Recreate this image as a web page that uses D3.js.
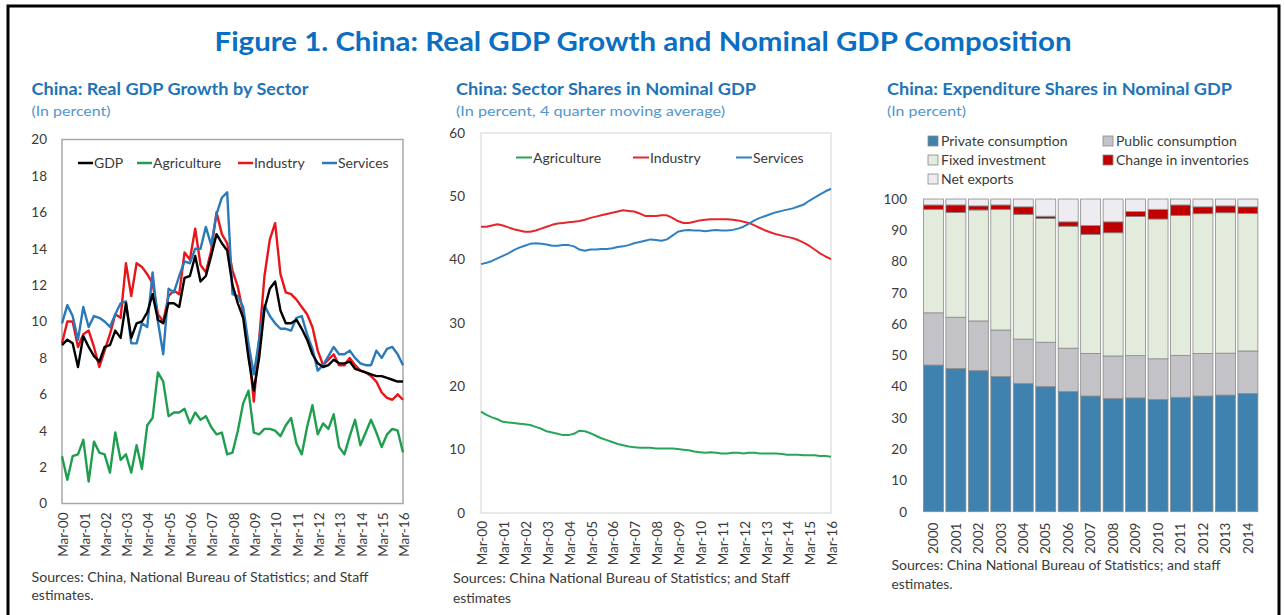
<!DOCTYPE html>
<html><head><meta charset="utf-8">
<script src="https://cdn.jsdelivr.net/npm/d3@7"></script>
<style>body{margin:0;background:#fff;} svg{display:block;font-family:Lato,"Open Sans",sans-serif;}</style>
</head><body><svg id="c" width="1285" height="615"></svg>
<script>
// ---------- DATA ----------
const quarters = ["Mar-00","Jun-00","Sep-00","Dec-00","Mar-01","Jun-01","Sep-01","Dec-01","Mar-02","Jun-02","Sep-02","Dec-02",
"Mar-03","Jun-03","Sep-03","Dec-03","Mar-04","Jun-04","Sep-04","Dec-04","Mar-05","Jun-05","Sep-05","Dec-05",
"Mar-06","Jun-06","Sep-06","Dec-06","Mar-07","Jun-07","Sep-07","Dec-07","Mar-08","Jun-08","Sep-08","Dec-08",
"Mar-09","Jun-09","Sep-09","Dec-09","Mar-10","Jun-10","Sep-10","Dec-10","Mar-11","Jun-11","Sep-11","Dec-11",
"Mar-12","Jun-12","Sep-12","Dec-12","Mar-13","Jun-13","Sep-13","Dec-13","Mar-14","Jun-14","Sep-14","Dec-14",
"Mar-15","Jun-15","Sep-15","Dec-15","Mar-16"];
const quarterTicks = ["Mar-00","Mar-01","Mar-02","Mar-03","Mar-04","Mar-05","Mar-06","Mar-07","Mar-08","Mar-09","Mar-10","Mar-11","Mar-12","Mar-13","Mar-14","Mar-15","Mar-16"];

// Real GDP growth by sector (percent)
const gdpGrowth = [8.7,9.0,8.8,7.5,9.2,8.6,8.1,7.8,8.6,8.7,9.5,9.1,11.0,9.1,9.9,10.0,10.5,11.5,10.1,9.9,
 11.0,11.0,10.8,12.4,12.5,13.6,12.2,12.5,13.6,14.8,14.3,13.9,12.0,11.0,10.2,8.0,6.2,8.0,10.7,11.8,
 12.2,10.6,9.9,9.9,10.1,9.6,9.0,8.2,7.7,7.5,7.6,7.9,7.7,7.7,7.8,7.4,7.3,7.2,7.1,7.0,7.0,6.9,6.8,6.7,6.7];
const agriGrowth = [2.6,1.3,2.6,2.7,3.5,1.2,3.4,2.8,2.7,1.7,3.9,2.4,2.7,1.7,3.2,1.9,4.3,4.7,7.2,6.7,
 4.8,5.0,5.0,5.2,4.4,5.0,4.6,4.8,4.2,3.8,3.9,2.7,2.8,4.0,5.5,6.2,3.9,3.8,4.1,4.1,
 4.0,3.7,4.3,4.7,3.3,2.7,4.2,5.4,3.8,4.4,4.1,4.9,3.1,2.7,3.7,4.6,3.2,3.9,4.6,3.9,3.1,3.8,4.1,4.0,2.8];
const industryGrowth = [8.8,10.0,10.0,8.6,9.3,9.5,8.6,7.5,8.4,9.3,10.4,10.2,13.2,11.4,13.2,13.0,12.6,12.1,10.4,10.0,
 11.4,11.7,11.5,13.8,13.4,15.1,13.1,12.7,13.9,16.0,14.8,14.3,12.8,11.9,10.5,8.5,5.6,9.0,12.5,14.5,
 15.4,12.6,11.6,11.5,11.2,10.8,10.4,9.7,8.4,7.6,7.9,8.2,7.6,7.6,8.0,7.6,7.3,7.2,7.0,6.7,6.1,5.8,5.7,6.0,5.7];
const servicesGrowth = [9.9,10.9,10.3,9.0,10.8,9.7,10.3,10.2,10.0,9.7,10.4,11.0,11.1,8.8,8.8,9.9,9.7,12.7,10.0,8.2,
 11.8,11.6,12.5,13.3,13.2,14.0,14.0,15.2,14.2,15.9,16.8,17.1,11.5,11.4,10.8,8.8,7.1,9.0,10.9,10.3,
 9.9,9.6,9.6,9.5,10.2,10.3,9.3,8.5,7.3,7.6,8.1,8.6,8.2,8.2,8.4,8.0,7.7,7.6,7.6,8.4,8.0,8.5,8.6,8.2,7.6];
const growthTicks = [0,2,4,6,8,10,12,14,16,18,20];

// Sector shares in nominal GDP (percent, 4q moving average)
const agriShare = [16.0,15.5,15.1,14.8,14.4,14.3,14.2,14.1,14.0,13.9,13.6,13.3,12.9,12.7,12.5,12.3,12.3,12.5,13.0,12.9,
 12.6,12.2,11.8,11.5,11.2,10.9,10.7,10.5,10.4,10.3,10.3,10.3,10.2,10.2,10.2,10.2,10.1,10.0,9.9,9.7,
 9.6,9.5,9.6,9.5,9.4,9.4,9.5,9.5,9.4,9.5,9.5,9.4,9.4,9.4,9.4,9.3,9.2,9.2,9.2,9.1,9.1,9.1,9.0,9.0,8.9];
const industryShare = [45.2,45.2,45.4,45.6,45.4,45.1,44.8,44.6,44.4,44.4,44.6,44.9,45.2,45.5,45.7,45.8,45.9,46.0,46.1,46.3,
 46.6,46.8,47.0,47.2,47.4,47.6,47.8,47.7,47.6,47.3,46.9,46.9,46.9,47.0,47.0,46.6,46.1,45.8,45.8,46.0,
 46.2,46.3,46.4,46.4,46.4,46.4,46.3,46.2,46.0,45.8,45.4,45.0,44.6,44.3,44.0,43.8,43.6,43.4,43.1,42.7,42.2,41.6,41.0,40.5,40.1];
const servicesShare = [39.3,39.5,39.8,40.2,40.6,41.0,41.5,41.9,42.2,42.5,42.6,42.5,42.4,42.2,42.2,42.3,42.3,42.1,41.6,41.4,
 41.6,41.6,41.7,41.7,41.8,42.0,42.1,42.3,42.6,42.8,43.0,43.2,43.1,43.0,43.2,43.8,44.4,44.6,44.7,44.6,
 44.6,44.5,44.6,44.7,44.6,44.6,44.7,44.9,45.2,45.7,46.2,46.6,46.9,47.2,47.5,47.7,47.9,48.1,48.4,48.7,49.3,49.8,50.3,50.8,51.2];
const shareTicks = [0,10,20,30,40,50,60];

// Expenditure shares in nominal GDP (percent)
const years = ["2000","2001","2002","2003","2004","2005","2006","2007","2008","2009","2010","2011","2012","2013","2014"];
const privateConsumption = [46.9,45.8,45.1,43.2,41.0,40.0,38.4,37.0,36.2,36.4,35.9,36.6,37.0,37.3,37.8];
const publicConsumption  = [16.7,16.4,15.9,14.9,14.2,14.2,13.9,13.6,13.6,13.5,13.0,13.4,13.6,13.4,13.6];
const fixedInvestment    = [33.1,33.5,35.5,38.6,39.9,39.6,39.0,38.1,39.4,44.5,44.7,44.7,44.7,44.9,44.0];
const inventoryChange    = [1.4,2.4,1.3,1.4,2.4,0.7,1.4,2.8,3.5,1.6,3.1,3.4,2.2,2.2,2.1];
const netExports         = [1.9,1.9,2.2,1.9,2.5,5.5,7.3,8.5,7.3,4.0,3.3,1.9,2.5,2.2,2.5];
const expTicks = [0,10,20,30,40,50,60,70,80,90,100];

// ---------- DRAW ----------
const svg = d3.select("#c");
const TXT = "#3a3a3a";
svg.append("rect").attr("x",8).attr("y",6).attr("width",1271).attr("height",700)
  .attr("fill","none").attr("stroke","#000").attr("stroke-width",3);

function addText(x,y,str,opts){
  const t = svg.append("text").attr("x",x).attr("y",y).text(str)
    .attr("font-size",opts.size||13).attr("fill",opts.fill||TXT);
  if(opts.bold) t.attr("font-weight",700);
  if(opts.anchor) t.attr("text-anchor",opts.anchor);
  if(opts.len) t.attr("textLength",opts.len).attr("lengthAdjust","spacingAndGlyphs");
  return t;
}
addText(643,51,"Figure 1. China: Real GDP Growth and Nominal GDP Composition",{size:27,bold:true,fill:"#0a6fc2",anchor:"middle",len:857});

const TITLE="#1f74b8", SUB="#4f97d0";
addText(31.5,95,"China: Real GDP Growth by Sector",{size:17,bold:true,fill:TITLE,len:277});
addText(31.5,115.5,"(In percent)",{size:14,fill:SUB,len:79});
addText(456,95,"China: Sector Shares in Nominal GDP",{size:17,bold:true,fill:TITLE,len:300});
addText(456,115.5,"(In percent, 4 quarter moving average)",{size:14,fill:SUB,len:269});
addText(887,95,"China: Expenditure Shares in Nominal GDP",{size:17,bold:true,fill:TITLE,len:345});
addText(887,115.5,"(In percent)",{size:14,fill:SUB,len:79});

addText(31.5,581.5,"Sources: China, National Bureau of Statistics; and Staff",{size:13.5,len:337});
addText(31.5,600,"estimates.",{size:13.5,len:62});
addText(453,583,"Sources: China National Bureau of Statistics; and Staff",{size:13.5,len:337});
addText(453,603,"estimates",{size:13.5,len:58});
addText(891.5,570,"Sources: China National Bureau of Statistics; and staff",{size:13.5,len:329});
addText(891.5,588.5,"estimates.",{size:13.5,len:61});

function styleAxis(g){
  g.select(".domain").remove();
  g.selectAll("text").attr("fill",TXT).attr("font-size",13.5).attr("font-family","Lato,'Open Sans',sans-serif");
}
function xTickAxis(g, offset){
  g.select(".domain").remove();
  g.selectAll("text").attr("fill",TXT).attr("font-size",13.5).attr("font-family","Lato,'Open Sans',sans-serif")
    .attr("transform","rotate(-90)").attr("text-anchor","end").attr("x",-offset).attr("y",0).attr("dy","0.35em");
}

// ===== Left chart =====
(function(){
  const x = d3.scaleLinear().domain([0,quarters.length-1]).range([62,403]);
  const y = d3.scaleLinear().domain([0,20]).range([503.5,139.5]);
  svg.append("rect").attr("x",62).attr("y",139.5).attr("width",341).attr("height",364)
    .attr("fill","none").attr("stroke","#a8a8a8").attr("stroke-width",1.5);
  svg.append("g").attr("transform","translate(62,0)")
    .call(d3.axisLeft(y).tickValues(growthTicks).tickSize(0).tickPadding(15)).call(styleAxis);
  const tickIdx = quarterTicks.map(q=>quarters.indexOf(q));
  svg.append("g").attr("transform","translate(1,503.5)")
    .call(d3.axisBottom(x).tickValues(tickIdx).tickFormat(i=>quarters[i]).tickSize(0)).call(g=>xTickAxis(g,9));
  const line = d3.line().x((d,i)=>x(i)).y(d=>y(d));
  const series = [[agriGrowth,"#1f9e50"],[industryGrowth,"#e8161b"],[servicesGrowth,"#2a7ab9"],[gdpGrowth,"#000"]];
  series.forEach(([d,c])=>svg.append("path").datum(d).attr("d",line).attr("fill","none")
     .attr("stroke",c).attr("stroke-width",2.4).attr("stroke-linejoin","round"));
  const leg = [["GDP","#000",78],["Agriculture","#1f9e50",137],["Industry","#e8161b",238],["Services","#2a7ab9",322]];
  leg.forEach(([n,c,lx])=>{
    svg.append("line").attr("x1",lx).attr("x2",lx+15).attr("y1",163).attr("y2",163).attr("stroke",c).attr("stroke-width",2.5);
    addText(lx+16,168,n,{size:14});
  });
})();

// ===== Middle chart =====
(function(){
  const x = d3.scaleLinear().domain([0,quarters.length-1]).range([481,831]);
  const y = d3.scaleLinear().domain([0,60]).range([513,133]);
  svg.append("rect").attr("x",481).attr("y",133).attr("width",350).attr("height",380)
    .attr("fill","none").attr("stroke","#d4d4d4").attr("stroke-width",1);
  svg.append("g").attr("transform","translate(481,0)")
    .call(d3.axisLeft(y).tickValues(shareTicks).tickSize(0).tickPadding(16)).call(styleAxis);
  const tickIdx = quarterTicks.map(q=>quarters.indexOf(q));
  svg.append("g").attr("transform","translate(1,513)")
    .call(d3.axisBottom(x).tickValues(tickIdx).tickFormat(i=>quarters[i]).tickSize(0)).call(g=>xTickAxis(g,8));
  const line = d3.line().x((d,i)=>x(i)).y(d=>y(d));
  const series = [[agriShare,"#27a55a"],[industryShare,"#e5262b"],[servicesShare,"#2f80c3"]];
  series.forEach(([d,c])=>svg.append("path").datum(d).attr("d",line).attr("fill","none")
     .attr("stroke",c).attr("stroke-width",2).attr("stroke-linejoin","round"));
  const leg = [["Agriculture","#27a55a",516],["Industry","#e5262b",633],["Services","#2f80c3",736]];
  leg.forEach(([n,c,lx])=>{
    svg.append("line").attr("x1",lx).attr("x2",lx+16).attr("y1",157.5).attr("y2",157.5).attr("stroke",c).attr("stroke-width",2);
    addText(lx+17,162.5,n,{size:14});
  });
})();

// ===== Right chart =====
(function(){
  const keys = ["Private consumption","Public consumption","Fixed investment","Change in inventories","Net exports"];
  const cols = ["#3f82b0","#c3c3c7","#e3ecdc","#c00000","#ececf1"];
  const vals = [privateConsumption,publicConsumption,fixedInvestment,inventoryChange,netExports];
  const rows = years.map((yr,i)=>{const o={year:yr}; keys.forEach((k,j)=>o[k]=vals[j][i]); return o;});
  const stack = d3.stack().keys(keys)(rows);
  const x = d3.scaleBand().domain(years).range([922.3,1259]).paddingInner(0.11).paddingOuter(0.05);
  const y = d3.scaleLinear().domain([0,100]).range([511.7,199]);
  svg.append("g").attr("transform","translate(922,0)")
    .call(d3.axisLeft(y).tickValues(expTicks).tickSize(0).tickPadding(15)).call(styleAxis);
  svg.append("g").attr("transform","translate(0,511.7)")
    .call(d3.axisBottom(x).tickSize(0)).call(g=>xTickAxis(g,11));
  stack.forEach((layer,j)=>{
    svg.append("g").selectAll("rect").data(layer).join("rect")
      .attr("x",d=>x(d.data.year)).attr("width",x.bandwidth())
      .attr("y",d=>y(d[1])).attr("height",d=>y(d[0])-y(d[1]))
      .attr("fill",cols[j]).attr("stroke","#8a8a8a").attr("stroke-width",0.8);
  });
  const legPos = [[928,141],[1103,141],[928,160],[1103,160],[928,179]];
  keys.forEach((k,j)=>{
    const [lx,ly]=legPos[j];
    svg.append("rect").attr("x",lx).attr("y",ly-5).attr("width",10).attr("height",10)
      .attr("fill",cols[j]).attr("stroke","#8a8a8a").attr("stroke-width",0.8);
    addText(lx+13,ly+5,k,{size:14});
  });
})();
</script></body></html>
